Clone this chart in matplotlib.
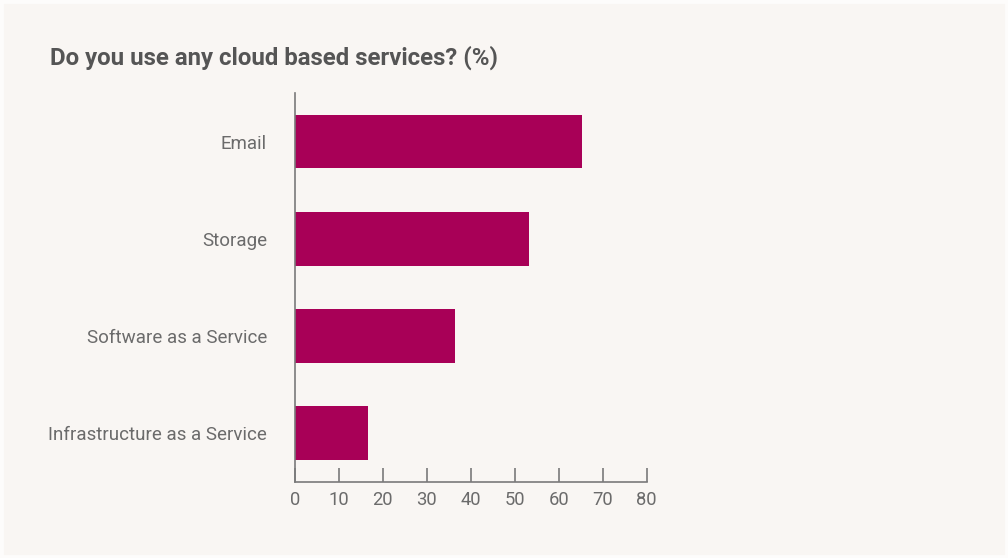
import matplotlib
matplotlib.use("Agg")
import matplotlib.pyplot as plt
from matplotlib.patches import Rectangle
from matplotlib import font_manager

# Survey results
categories = ["Email", "Storage", "Software as a Service", "Infrastructure as a Service"]
values = [65.3, 53.2, 36.4, 16.7]
xticks = [0, 10, 20, 30, 40, 50, 60, 70, 80]

bg = "#f9f6f3"
bar_color = "#a80057"
text_color = "#6b6b6b"
axis_color = "#7a7a7a"

installed = {f.name for f in font_manager.fontManager.ttflist}
title_family = [f for f in ["Roboto", "DejaVu Sans"] if f in installed]
label_family = [f for f in ["Roboto", "DejaVu Sans"] if f in installed]

fig = plt.figure(figsize=(10.08, 5.58), dpi=100, facecolor=bg)

# thin lighter frame around the panel
fig.patches.append(Rectangle((0, 0), 1, 1, transform=fig.transFigure,
                             fill=False, edgecolor="#fdfcfb", linewidth=5, zorder=0))

ax = fig.add_axes([0.2924, 0.1367, 0.3492, 0.6966])
ax.set_facecolor(bg)

ypos = list(range(len(categories)))
ax.barh(ypos, values, height=0.55, color=bar_color, zorder=2)
ax.set_ylim(len(categories) - 0.5, -0.5)
ax.set_xlim(0, 80)

ax.set_xticks(xticks)
ax.set_xticklabels([str(t) for t in xticks])
ax.set_yticks(ypos)
ax.set_yticklabels(categories)

for s in ["top", "right"]:
    ax.spines[s].set_visible(False)
for s in ["left", "bottom"]:
    ax.spines[s].set_color(axis_color)
    ax.spines[s].set_linewidth(1.2)

ax.tick_params(axis="x", direction="in", length=10, width=1.2, color=axis_color,
               labelcolor=text_color, labelsize=13.2, pad=7)
ax.tick_params(axis="y", length=0, labelcolor=text_color, labelsize=13.5, pad=20)
for lbl in ax.get_xticklabels() + ax.get_yticklabels():
    lbl.set_family(label_family)

fig.text(50 / 1008, 1 - 58 / 558, "Do you use any cloud based services? (%)",
         fontsize=17.3, fontweight="bold", color="#555555", family=title_family,
         ha="left", va="center")

fig.savefig("out.png", dpi=100, facecolor=bg)
